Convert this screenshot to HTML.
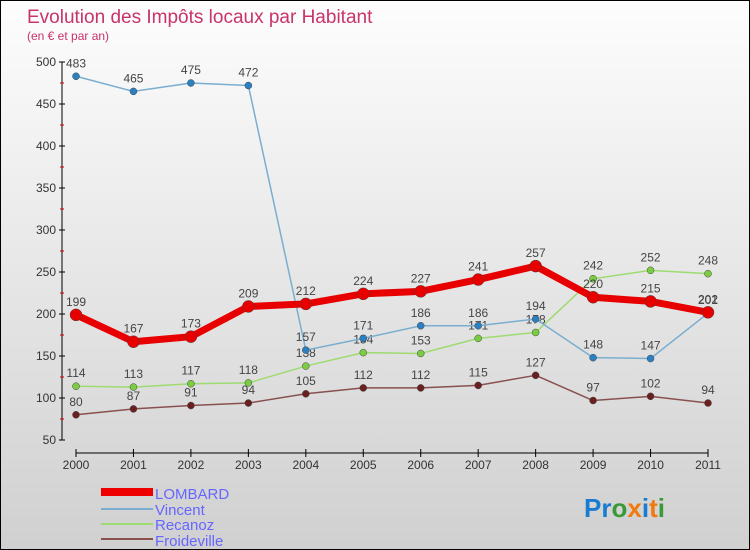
<!DOCTYPE html>
<html><head><meta charset="utf-8"><style>
body{margin:0}
#wrap{width:748px;height:548px;border:1px solid #000;background:linear-gradient(#fdfdfd,#d0d0d0);position:relative;overflow:hidden;font-family:"Liberation Sans",sans-serif}
</style></head><body>
<div id="wrap">
<svg id="svg" width="748" height="548" style="position:absolute;left:0;top:0">
<text x="26" y="22" font-size="19" fill="#c8336a">Evolution des Impôts locaux par Habitant</text>
<text x="26" y="39" font-size="12" fill="#c8336a">(en € et par an)</text>
<g id="axes"></g><g id="series"></g>
<g>
<rect x="100" y="487" width="52" height="8" fill="#e00"/>
<text x="154" y="498" font-size="15" fill="#66f">LOMBARD</text>
<rect x="100" y="507" width="52" height="2" fill="#7aaed0"/>
<text x="154" y="514" font-size="15" fill="#66f">Vincent</text>
<rect x="100" y="522" width="52" height="2" fill="#9edb70"/>
<text x="154" y="529" font-size="15" fill="#66f">Recanoz</text>
<rect x="100" y="537" width="52" height="2" fill="#8a5050"/>
<text x="154" y="545" font-size="15" fill="#66f">Froideville</text>
</g>
<text x="583" y="516" font-size="26" font-weight="bold"><tspan fill="#1a7ccf">Pr</tspan><tspan fill="#3a9a3a">o</tspan><tspan fill="#f07a10">x</tspan><tspan fill="#1a7ccf">i</tspan><tspan fill="#f07a10">t</tspan><tspan fill="#3a9a3a">i</tspan></text>
</svg>
</div>
<script>
const years=["2000","2001","2002","2003","2004","2005","2006","2007","2008","2009","2010","2011"];
const yTicks=[50,100,150,200,250,300,350,400,450,500];
const lombard=[199,167,173,209,212,224,227,241,257,220,215,202];
const vincent=[483,465,475,472,157,171,186,186,194,148,147,201];
const recanoz=[114,113,117,118,138,154,153,171,178,242,252,248];
const froideville=[80,87,91,94,105,112,112,115,127,97,102,94];
const NS="http://www.w3.org/2000/svg";
const X=i=>75+i*(707-75)/11;
const Y=v=>439-(v-50)*(439-61)/450;
function mk(t,a,p){const e=document.createElementNS(NS,t);for(const k in a)e.setAttribute(k,a[k]);p.appendChild(e);return e;}
const ax=document.getElementById('axes');
const yl=mk('line',{x1:61,y1:61,x2:61,y2:439,stroke:'#000'},ax);

const xl=mk('line',{x1:75,y1:452,x2:707,y2:452,stroke:'#000'},ax);

yTicks.forEach(v=>{const y=Y(v);
mk('line',{x1:58,y1:y,x2:64,y2:y,stroke:'#000'},ax);
const t=mk('text',{x:55,y:y+4,'font-size':12,fill:'#333','text-anchor':'end'},ax);t.textContent=v;

if(v<500)mk('line',{x1:59,y1:y-21,x2:63,y2:y-21,stroke:'#c00'},ax);});
years.forEach((yr,i)=>{const x=X(i);
mk('line',{x1:x,y1:448,x2:x,y2:456,stroke:'#000'},ax);
const t=mk('text',{x:x,y:468,'font-size':12,fill:'#333','text-anchor':'middle'},ax);t.textContent=yr;
});
const sg=document.getElementById('series');
function draw(vals,name,col,dot,w,r){
const g=mk('g',{},sg);
const p=mk('polyline',{points:vals.map((v,i)=>X(i)+','+Y(v)).join(' '),fill:'none',stroke:col,'stroke-width':w,'stroke-linejoin':'round'},g);

vals.forEach((v,i)=>{const c=mk('circle',{cx:X(i),cy:Y(v),r:r,fill:dot,stroke:'#444','stroke-width':0.5},g);

const t=mk('text',{x:X(i),y:Y(v)-9,'font-size':12,fill:'#444','text-anchor':'middle'},g);t.textContent=v;
});}
draw(froideville,'froideville','#8a5050','#6a2020',1.5,3.5);
draw(recanoz,'recanoz','#9edb70','#7acc40',1.5,3.5);
draw(vincent,'vincent','#7aaed0','#2a80c0',1.5,3.5);
draw(lombard,'lombard','#e80000','#e80000',7,6);
</script>
</body></html>
